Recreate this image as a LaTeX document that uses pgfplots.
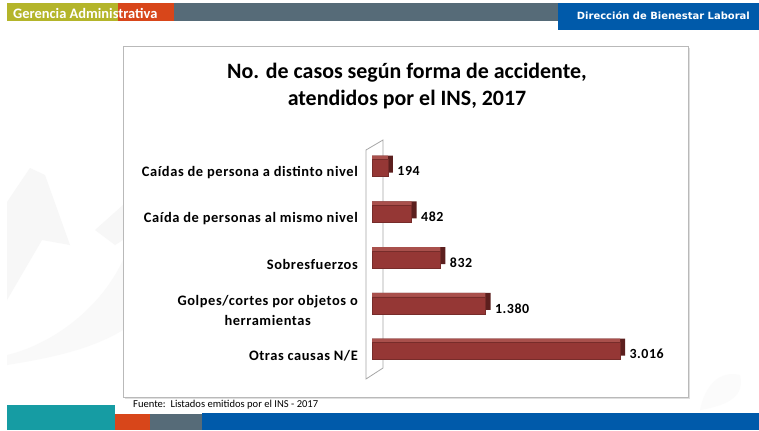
\documentclass[border=0pt]{standalone}
\usepackage{pgfplots}
\usepackage{pgfplotstable}
\pgfplotsset{compat=1.18}
\usepackage{fontspec}
\setmainfont{Carlito}
\newfontfamily\verd{DejaVu Sans}
\newfontfamily\wide[LetterSpace=4]{Carlito}

\definecolor{hgreen}{HTML}{B4B52A}
\definecolor{horange}{HTML}{D8461A}
\definecolor{hgray}{HTML}{566B78}
\definecolor{hblue}{HTML}{005AAA}
\definecolor{hteal}{HTML}{169CA3}
\definecolor{barfront}{HTML}{953735}
\definecolor{bartop}{HTML}{A9504C}
\definecolor{barside}{HTML}{5C1F1E}

\pgfplotstableread{
cat val
0 3016
1 1380
2 832
3 482
4 194
}\casos

\begin{document}
\begin{tikzpicture}
\begin{scope}[x=1bp,y=1bp]
\useasboundingbox (0,0) rectangle (759,430);
\fill[white] (0,0) rectangle (759,430);

% faint background swooshes
\fill[gray!5] (7,75) .. controls (50,85) and (100,120) .. (123,170) -- (123,100) .. controls (90,80) and (50,72) .. (7,65) -- cycle;
\fill[gray!6] (7,130) -- (7,228) -- (30,262) -- (45,255) -- (70,185) -- (42,190) -- cycle;
\fill[gray!6] (95,200) -- (123,225) -- (123,190) -- (115,185) -- cycle;
\fill[gray!3] (700,20) .. controls (730,25) and (745,35) .. (740,55) .. controls (720,60) and (705,45) .. cycle;

% header bars
\fill[hgreen] (7,427) rectangle (118,409);
\fill[horange] (118,427) rectangle (174,409);
\fill[hgray] (174,427) rectangle (558,409);
\fill[hblue] (558,427) rectangle (759,400);
\node[anchor=west, text=white, font=\fontsize{14.5}{14.5}\selectfont\bfseries, inner sep=0pt] at (13,417) {Gerencia Administrativa};
\node[anchor=east, text=white, font=\verd\fontsize{10}{10}\selectfont\bfseries, inner sep=0pt] at (750,414) {Dirección de Bienestar Laboral};

% footer bars
\fill[hteal] (7,25) rectangle (115,0);
\fill[horange] (115,16) rectangle (150,0);
\fill[hgray] (150,16) rectangle (202,0);
\fill[hblue] (202,17) rectangle (759,0);
\node[anchor=west, font=\fontsize{10.6}{10.6}\selectfont, inner sep=0pt] at (133,25) {Fuente:\ \ Listados emitidos por el INS - 2017};

% chart box
\fill[gray!25] (125,31) rectangle (690,382);
\filldraw[fill=white, draw=gray!55, line width=0.8bp] (123,33) rectangle (688,384);
\node[align=center, font=\fontsize{22}{27}\selectfont\bfseries] at (407,344) {No. de casos según forma de accidente,\\atendidos por el INS, 2017};

% back wall
\draw[gray!70, line width=0.8bp] (366,51) -- (366,280) -- (383,290) -- (383,62) -- cycle;
\end{scope}

\begin{axis}[
    at={(372bp,51.5bp)}, anchor=south west,
    scale only axis,
    width=287.8bp, height=237.9bp,
    xbar, bar width=17bp,
    xmin=0, xmax=3500,
    ymin=-0.6, ymax=4.6,
    axis line style={draw=none},
    xtick=\empty,
    major tick length=0pt,
    ytick={0,1,2,3,4},
    yticklabels={Otras causas N/E, Golpes/cortes por objetos o\\herramientas, Sobresfuerzos, Caída de personas al mismo nivel, Caídas de persona a distinto nivel},
    yticklabel style={font=\wide\fontsize{14.5}{20}\selectfont\bfseries, align=center, inner sep=0pt, xshift=-14bp, yshift=-5bp},
    /pgf/number format/assume math mode=true,
    /pgf/number format/1000 sep={.},
    clip=false,
]
\addplot[fill=barside, draw=none, bar shift=4bp] table[x expr=\thisrow{val}+61, y=cat] {\casos};
\addplot[fill=bartop, draw=none, bar shift=4bp] table[x=val, y=cat] {\casos};
\addplot[fill=barfront, draw=barfront!80!black, line width=0.4bp, bar shift=0bp,
    nodes near coords, nodes near coords align={horizontal},
    every node near coord/.append style={font=\wide\fontsize{14}{14}\selectfont\bfseries, text=black, xshift=6bp, yshift=-3bp}
    ] table[x=val, y=cat] {\casos};
\end{axis}
\end{tikzpicture}
\end{document}
